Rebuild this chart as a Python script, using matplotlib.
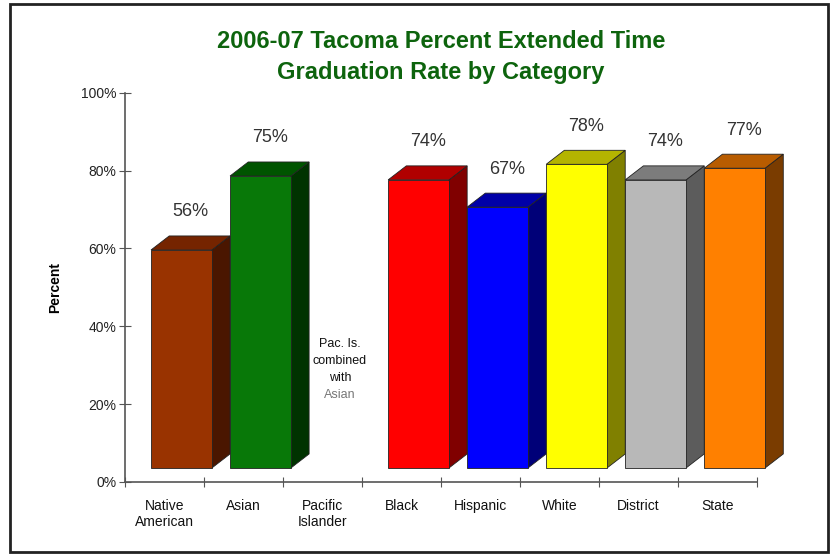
import numpy as np
import matplotlib.pyplot as plt
from matplotlib.patches import Polygon, Rectangle

plt.rcParams['font.family'] = ['Liberation Sans', 'DejaVu Sans']

# Chart data
categories = ['Native\nAmerican', 'Asian', 'Pacific\nIslander', 'Black',
              'Hispanic', 'White', 'District', 'State']
values = [56, 75, None, 74, 67, 78, 74, 77]
front_colors = ['#993300', '#087808', None, '#ff0000', '#0000ff',
                '#ffff00', '#b8b8b8', '#ff8000']
top_colors = ['#752400', '#005400', None, '#b00000', '#0000a8',
              '#b4b400', '#7c7c7c', '#b85c00']
side_colors = ['#4a1600', '#003300', None, '#800000', '#000078',
               '#808000', '#5c5c5c', '#7a3c00']
yticks = [0, 20, 40, 60, 80, 100]
note_lines = ['Pac. Is.', 'combined', 'with', 'Asian']
note_colors = ['#111111', '#111111', '#111111', '#777777']

# 3D look parameters (in data units)
shift = 0.33      # left edge of front face within category
width = 0.77
dx = 0.23
dy = 3.6
base = 3.6

fig = plt.figure(figsize=(8.33, 5.6), dpi=100)
ax = fig.add_axes([0.150, 0.1393, 0.759, 0.6952])

for i, v in enumerate(values):
    if v is None:
        continue
    x0 = i + shift
    x1 = x0 + width
    y0 = base
    y1 = base + v
    # side face
    ax.add_patch(Polygon([(x1, y0), (x1 + dx, y0 + dy), (x1 + dx, y1 + dy), (x1, y1)],
                         closed=True, facecolor=side_colors[i], edgecolor='#222222',
                         lw=0.6, clip_on=False))
    # top face
    ax.add_patch(Polygon([(x0, y1), (x0 + dx, y1 + dy), (x1 + dx, y1 + dy), (x1, y1)],
                         closed=True, facecolor=top_colors[i], edgecolor='#222222',
                         lw=0.6, clip_on=False))
    # front face
    ax.add_patch(Rectangle((x0, y0), width, v, facecolor=front_colors[i],
                           edgecolor='#222222', lw=0.6, clip_on=False))
    ax.text(x0 + (width + dx) / 2, y1 + dy + 4, f'{v}%', ha='center', va='bottom',
            fontsize=13, color='#333333')

# note for Pacific Islander
for k, (line, c) in enumerate(zip(note_lines, note_colors)):
    ax.text(2.72, 35.5 - k * 4.4, line, ha='center', va='center', fontsize=9, color=c)

ax.set_xlim(0, len(categories))
ax.set_ylim(0, 100)
ax.set_yticks(yticks)
ax.set_yticklabels([f'{t}%' for t in yticks], fontsize=10, color='#222222')
ax.set_xticks(np.arange(len(categories) + 1))
ax.set_xticklabels([''] * (len(categories) + 1))
ax.set_xticks(np.arange(len(categories)) + 0.5, minor=True)
ax.set_xticklabels(categories, minor=True, fontsize=10, color='#111111')
ax.tick_params(axis='x', which='minor', length=0, pad=12)
ax.tick_params(axis='x', which='major', direction='inout', length=7, color='#555555')
ax.tick_params(axis='y', direction='inout', length=8, color='#555555', pad=2)
for s in ['top', 'right']:
    ax.spines[s].set_visible(False)
for s in ['left', 'bottom']:
    ax.spines[s].set_color('#555555')
    ax.spines[s].set_linewidth(1.2)

ax.set_ylabel('Percent', fontsize=10, fontweight='bold', labelpad=14)
ax.set_title('2006-07 Tacoma Percent Extended Time\nGraduation Rate by Category',
             fontsize=17, fontweight='bold', color='#0d640d', pad=10, linespacing=1.45)

# outer frame
fig.add_artist(Rectangle((10 / 833, 1 - 552 / 560), 818 / 833, 548 / 560,
                         transform=fig.transFigure, fill=False,
                         edgecolor='#222222', lw=2))

fig.savefig('out.png', dpi=100)
